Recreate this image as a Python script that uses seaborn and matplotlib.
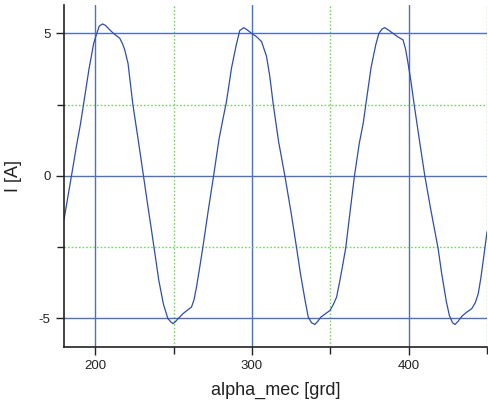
import matplotlib
matplotlib.use("Agg")
import matplotlib.pyplot as plt
from matplotlib.ticker import MultipleLocator
import seaborn as sns
import pandas as pd

alpha_mec = [180, 182, 184.8, 188, 190.5, 192.2, 196, 199, 200.8, 202.5, 204.6, 206.5,
             209.3, 212, 215.6, 217.5, 218.8, 220.9, 222.5, 224, 227.3, 230.5, 233, 236,
             238.4, 240.5, 243.5, 246.3, 248.2, 249.6, 251, 253, 256, 259, 261.4, 263, 264.6,
             266.7, 268.8, 272, 275.5, 279, 281.5, 283.7, 287, 290, 292.2, 294.8, 297,
             299.7, 303, 306.1, 309.3, 311.4, 313.6, 317, 321, 325, 328.4, 331, 334,
             335.9, 338, 340.1, 342, 344, 347, 349.8, 352, 354, 356, 358, 359.9, 362.5,
             365.4, 368.5, 371, 372.9, 376, 379, 381, 383, 384.7, 387, 390, 393, 396.4,
             398, 399.6, 401.5, 403.5, 407, 410.3, 414, 418.8, 421, 424, 426, 428, 429.6,
             431.5, 434, 437, 440.2, 442.5, 444.4, 446, 448, 450]
current = [-1.55, -0.9, 0.0, 1.05, 1.8, 2.4, 3.75, 4.65, 4.97, 5.25, 5.33, 5.28,
           5.12, 4.98, 4.83, 4.62, 4.42, 3.95, 3.2, 2.5, 1.3, 0.1, -0.85, -1.95,
           -2.85, -3.65, -4.5, -5.0, -5.12, -5.18, -5.12, -5.0, -4.83, -4.7, -4.6, -4.35, -3.9,
           -3.19, -2.45, -1.25, 0.0, 1.3, 2.0, 2.6, 3.8, 4.6, 5.1, 5.2, 5.12,
           5.0, 4.88, 4.71, 4.19, 3.48, 2.5, 1.2, 0.0, -1.3, -2.5, -3.45, -4.4,
           -4.95, -5.15, -5.21, -5.1, -4.95, -4.83, -4.72, -4.5, -4.25, -3.7, -3.1, -2.5, -1.3,
           0.0, 1.15, 1.85, 2.6, 3.8, 4.6, 5.0, 5.15, 5.2, 5.12, 5.0, 4.88, 4.77,
           4.45, 3.95, 3.3, 2.5, 1.2, 0.0, -1.15, -2.55, -3.4, -4.4, -4.9, -5.15, -5.21,
           -5.1, -4.92, -4.78, -4.66, -4.45, -4.13, -3.6, -2.8, -1.96]

xlabel = "alpha_mec [grd]"
ylabel = "I [A]"

sns.set_theme(style="ticks")
plt.rcParams['font.family'] = ['Liberation Sans', 'DejaVu Sans']
plt.rcParams['axes.unicode_minus'] = False

df = pd.DataFrame({"x": alpha_mec, "y": current})

fig = plt.figure(figsize=(4.88, 4.03), dpi=100)
ax = fig.add_axes([0.131, 0.139, 0.867, 0.849])

ax.set_xlim(180, 450)
ax.set_ylim(-6, 6)
ax.xaxis.set_major_locator(MultipleLocator(100))
ax.xaxis.set_minor_locator(MultipleLocator(50))
ax.yaxis.set_major_locator(MultipleLocator(5))
ax.yaxis.set_minor_locator(MultipleLocator(2.5))

ax.grid(which="major", color="#4d6fc4", linestyle="-", linewidth=1.0)
ax.grid(which="minor", color="#7ed06a", linestyle=(0, (1.2, 1.4)), linewidth=1.0)
ax.set_axisbelow(True)

sns.lineplot(data=df, x="x", y="y", ax=ax, color="#2d4db0", linewidth=0.9,
             estimator=None, sort=False)

for s in ["top", "right"]:
    ax.spines[s].set_visible(False)
for s in ["left", "bottom"]:
    ax.spines[s].set_color("#222222")
    ax.spines[s].set_linewidth(1.2)

ax.tick_params(which="both", direction="out", color="#222222", width=1.0,
               labelsize=9.5, labelcolor="#222222")
ax.tick_params(which="major", length=6)
ax.tick_params(which="minor", length=5)

ax.set_xlabel(xlabel, fontsize=13, color="#222222", labelpad=7)
ax.set_ylabel(ylabel, fontsize=13, color="#222222", labelpad=12)

fig.savefig("out.png", dpi=100)
